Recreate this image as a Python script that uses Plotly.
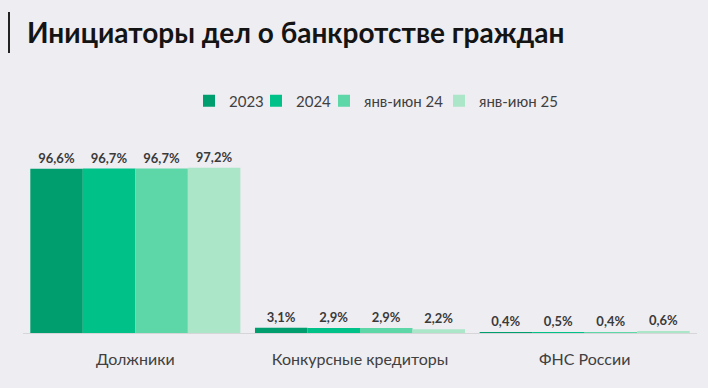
import plotly.graph_objects as go

categories = ["Должники", "Конкурсные кредиторы", "ФНС России"]
series_names = ["2023", "2024", "янв-июн 24", "янв-июн 25"]
values_2023 = [96.6, 3.1, 0.4]
values_2024 = [96.7, 2.9, 0.5]
values_h1_24 = [96.7, 2.9, 0.4]
values_h1_25 = [97.2, 2.2, 0.6]
colors = ["#009e6e", "#00c289", "#5dd6a8", "#abe6c9"]

W, H = 708, 388
L, R, T, B = 23, 11, 163, 55
pw, ph = W - L - R, H - T - B

def px_x(x):
    return (x - L) / pw

def px_y(y):
    return (H - B - y) / ph

legend_ids = ["legend", "legend2", "legend3", "legend4"]
legend_left_px = [189, 256, 324, 439]

fig = go.Figure()
for name, vals, col, lid in zip(series_names, [values_2023, values_2024, values_h1_24, values_h1_25], colors, legend_ids):
    fig.add_trace(go.Bar(
        x=categories, y=vals, name=name, legend=lid,
        marker=dict(color=col, line=dict(width=0)),
        text=[f"{v:.1f}".replace(".", ",") + "%" for v in vals],
        textposition="outside",
        textfont=dict(family="Lato, Open Sans, sans-serif", size=13, color="#3a3a3a", weight="bold"),
        cliponaxis=False,
        hoverinfo="skip",
    ))

legend_common = dict(orientation="h", xanchor="left", yanchor="middle", y=px_y(101),
                     font=dict(size=15, color="#404040"), bgcolor="rgba(0,0,0,0)",
                     borderwidth=0, itemwidth=30)

layout_legends = {lid: dict(legend_common, x=px_x(lx)) for lid, lx in zip(legend_ids, legend_left_px)}

fig.update_layout(
    width=W, height=H,
    margin=dict(l=L, r=R, t=T, b=B),
    paper_bgcolor="#eeedf2", plot_bgcolor="#eeedf2",
    barmode="group", bargap=0.065, bargroupgap=0,
    font=dict(family="Lato, Open Sans, sans-serif", color="#404040"),
    showlegend=True,
    xaxis=dict(showline=True, linecolor="#d6d6d9", linewidth=1, ticks="",
               tickfont=dict(size=16, color="#404040"), showgrid=False, fixedrange=True,
               ticklabelstandoff=12),
    yaxis=dict(range=[0, 100], visible=False, showgrid=False, fixedrange=True),
    annotations=[dict(
        text="<b>Инициаторы дел о банкротстве граждан</b>",
        xref="paper", yref="paper", x=px_x(25), y=px_y(32),
        xanchor="left", yanchor="middle", showarrow=False,
        font=dict(family="Lato, Open Sans, sans-serif", size=28, color="#141414"),
    )],
    shapes=[dict(type="line", xref="paper", yref="paper",
                 x0=px_x(9), x1=px_x(9), y0=px_y(12), y1=px_y(53),
                 line=dict(color="#222222", width=2))],
    **layout_legends,
)

fig.write_html("out.html", config={"displayModeBar": False},
               post_script="document.body.style.margin='0';document.body.style.background='#eeedf2';")
